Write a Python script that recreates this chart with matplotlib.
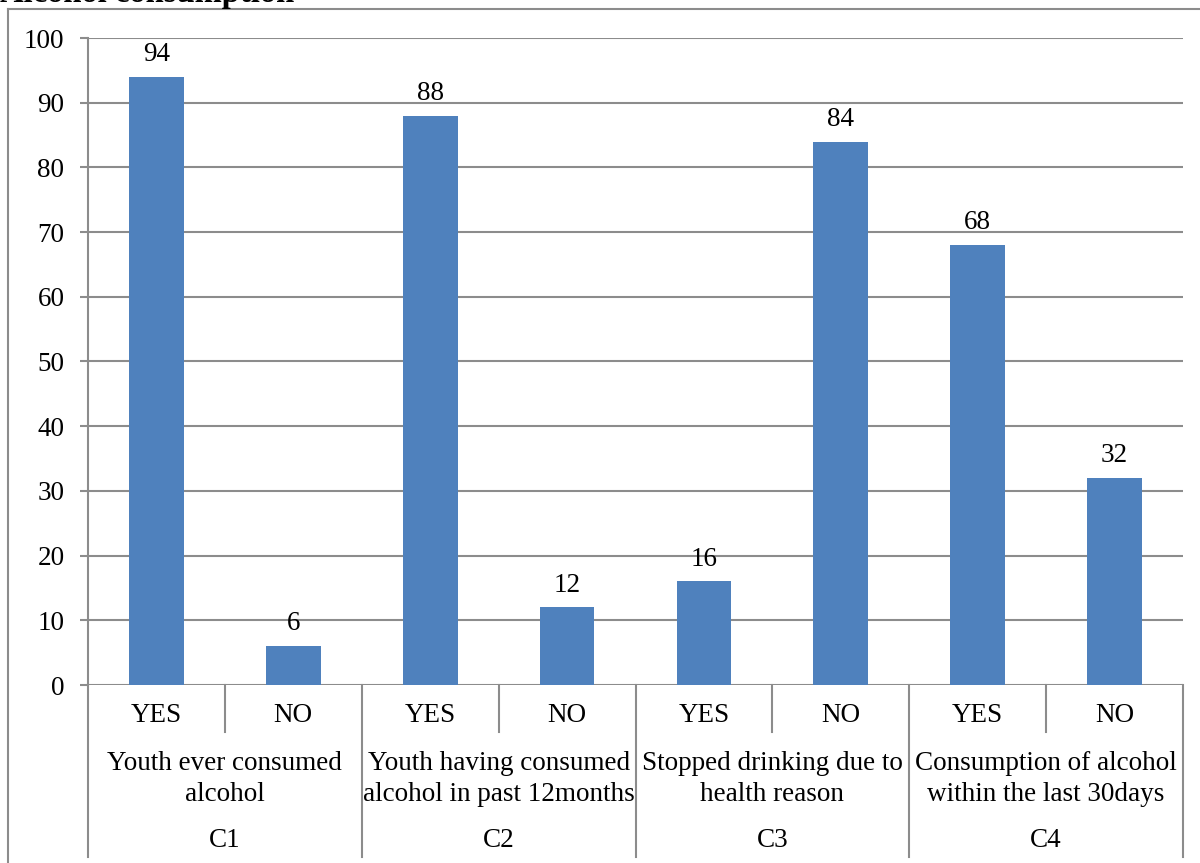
import matplotlib
matplotlib.use("Agg")
import matplotlib.pyplot as plt
from matplotlib.lines import Line2D
import matplotlib.transforms as mtransforms

plt.rcParams['font.family'] = ['Liberation Serif', 'DejaVu Serif']

# Data
responses = ["YES", "NO", "YES", "NO", "YES", "NO", "YES", "NO"]
values = [94, 6, 88, 12, 16, 84, 68, 32]
group_titles = ["Youth ever consumed\nalcohol",
                "Youth having consumed\nalcohol in past 12months",
                "Stopped drinking due to\nhealth reason",
                "Consumption of alcohol\nwithin the last 30days"]
group_codes = ["C1", "C2", "C3", "C4"]
y_ticks = [0, 10, 20, 30, 40, 50, 60, 70, 80, 90, 100]

W, H = 1200, 863
fig = plt.figure(figsize=(W / 100, H / 100), dpi=100)
ax = fig.add_axes([88 / W, (H - 685) / H, (1183 - 88) / W, (685 - 38) / H])

grey = "#8c8c8c"
bar_color = "#4f81bd"
fs = 19.5

x = list(range(len(values)))
bars = ax.bar(x, values, width=0.4, color=bar_color, zorder=3)
for xi, v in zip(x, values):
    ax.annotate(str(v), (xi, v), xytext=(0, 7), textcoords="offset points",
                ha="center", va="bottom", fontsize=fs)

ax.set_xlim(-0.5, len(values) - 0.5)
ax.set_ylim(0, 100)
ax.set_yticks(y_ticks)
ax.set_yticklabels([str(t) for t in y_ticks], fontsize=fs)
ax.tick_params(axis="y", direction="out", length=6, width=1.5, color=grey, pad=11)
ax.set_xticks([])
ax.grid(axis="y", color=grey, linewidth=1.5, zorder=0)
ax.set_axisbelow(True)
for s in ["top", "right", "bottom"]:
    ax.spines[s].set_visible(False)
ax.spines["left"].set_color(grey)
ax.spines["left"].set_linewidth(1.5)

# Hierarchical category axis below the plot
trans = mtransforms.blended_transform_factory(ax.transData, ax.transAxes)
ah = 685 - 38
def yfrac(py):
    return -(py - 685) / ah

y_short = yfrac(732)
y_long = yfrac(857)
for b in [0.5, 2.5, 4.5, 6.5]:
    ax.add_line(Line2D([b, b], [0, y_short], transform=trans, color=grey,
                       linewidth=1.5, clip_on=False))
for b in [-0.5, 1.5, 3.5, 5.5, 7.5]:
    ax.add_line(Line2D([b, b], [0, y_long], transform=trans, color=grey,
                       linewidth=1.5, clip_on=False))

for xi, r in zip(x, responses):
    ax.text(xi, yfrac(715), r, transform=trans, ha="center", va="center", fontsize=fs)
for gi, (t, c) in enumerate(zip(group_titles, group_codes)):
    cx = 2 * gi + 0.5
    ax.text(cx, yfrac(779), t, transform=trans, ha="center", va="center",
            fontsize=fs, linespacing=1.35)
    ax.text(cx, yfrac(840), c, transform=trans, ha="center", va="center", fontsize=fs)

# Outer frame
fig.add_artist(Line2D([8 / W, 8 / W], [0, (H - 9) / H], transform=fig.transFigure,
                      color=grey, linewidth=1.5))
fig.add_artist(Line2D([8 / W, 1], [(H - 9) / H, (H - 9) / H], transform=fig.transFigure,
                      color=grey, linewidth=1.5))

# Title
fig.text(0, (H - 2) / H, "Alcohol consumption", fontsize=23.5, fontweight="bold",
         ha="left", va="baseline")

fig.savefig("out.png", dpi=100)
